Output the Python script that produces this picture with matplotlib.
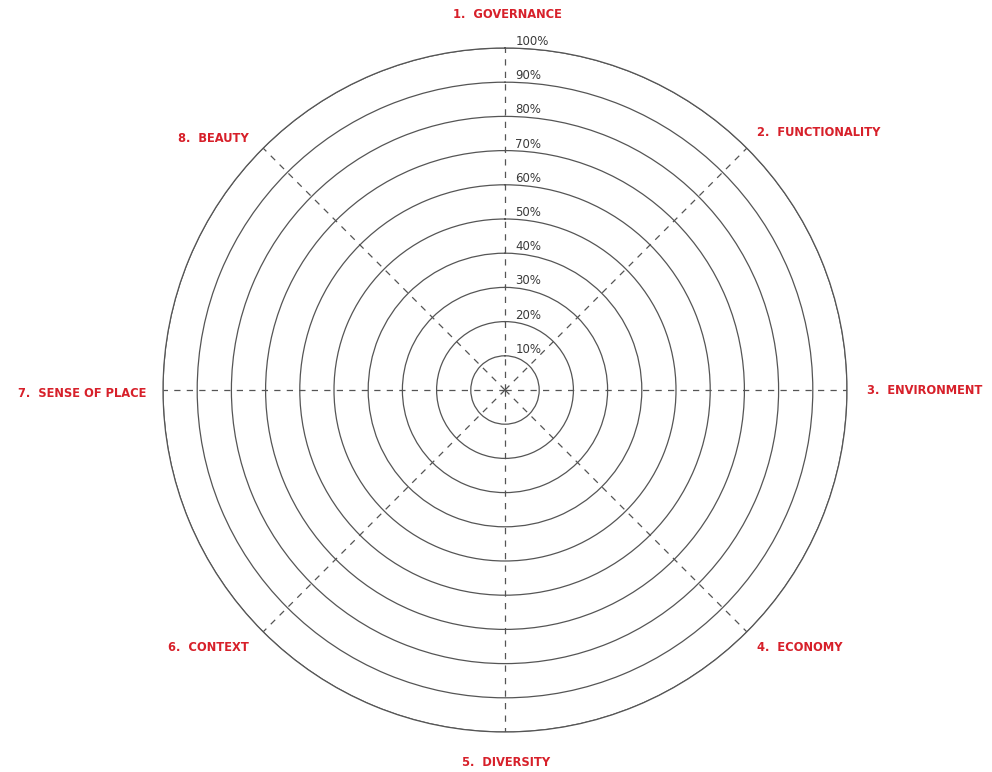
import numpy as np
import matplotlib
matplotlib.use("Agg")
import matplotlib.pyplot as plt
from matplotlib import font_manager

categories = ["1.  GOVERNANCE", "2.  FUNCTIONALITY", "3.  ENVIRONMENT", "4.  ECONOMY",
              "5.  DIVERSITY", "6.  CONTEXT", "7.  SENSE OF PLACE", "8.  BEAUTY"]
ring_values = [10, 20, 30, 40, 50, 60, 70, 80, 90, 100]
ring_labels = ["10%", "20%", "30%", "40%", "50%", "60%", "70%", "80%", "90%", "100%"]

W, H = 992, 772
fig = plt.figure(figsize=(W / 100, H / 100), dpi=100)
cx, cy, R = 505, 390, 342
ax = fig.add_axes([(cx - R) / W, (H - cy - R) / H, 2 * R / W, 2 * R / H], projection="polar")
ax.set_theta_zero_location("N")
ax.set_theta_direction(-1)
ax.set_ylim(0, 100)

line_col = "#555555"
n = len(categories)
angles = np.arange(n) * 2 * np.pi / n
ax.set_xticks(angles)
ax.set_xticklabels([])
ax.set_yticks(ring_values)
ax.set_yticklabels([])
ax.xaxis.grid(True, color=line_col, linestyle=(0, (5, 5)), linewidth=0.9)
ax.yaxis.grid(True, color=line_col, linestyle="-", linewidth=0.9)
ax.spines["polar"].set_color(line_col)
ax.spines["polar"].set_linewidth(0.9)
ax.tick_params(length=0)

for v, lab in zip(ring_values, ring_labels):
    ax.annotate(lab, xy=(0, v), xytext=(7.5, 0), textcoords="offset points",
                ha="left", va="bottom", fontsize=8.5, color="#3a3a3a",
                family=["DejaVu Sans"])

# condensed bold font (DejaVu Sans Condensed Bold)
cond = None
for f in sorted(font_manager.findSystemFonts()):
    if f.split("/")[-1].lower() == "dejavusanscondensed-bold.ttf":
        cond = f
        break

# label offsets from the outer end of each spoke, in pixels (dx right, dy up)
off_px = [(2, 34), (10, 16), (20, 0), (10, -16), (1, -31), (-14, -16), (-17, -3), (-14, 10)]
label_ha = ["center", "left", "left", "left", "center", "right", "right", "right"]
red = "#d7202a"
for a, lab, (dx, dy), ha in zip(angles, categories, off_px, label_ha):
    if cond:
        kw = dict(fontproperties=font_manager.FontProperties(fname=cond, size=9.2))
    else:
        kw = dict(fontsize=8.4, fontweight="bold", family="DejaVu Sans")
    ax.annotate(lab, xy=(a, 100), xytext=(dx * 0.72, dy * 0.72), textcoords="offset points",
                ha=ha, va="center", color=red, annotation_clip=False, **kw)

fig.savefig("out.png", dpi=100)
